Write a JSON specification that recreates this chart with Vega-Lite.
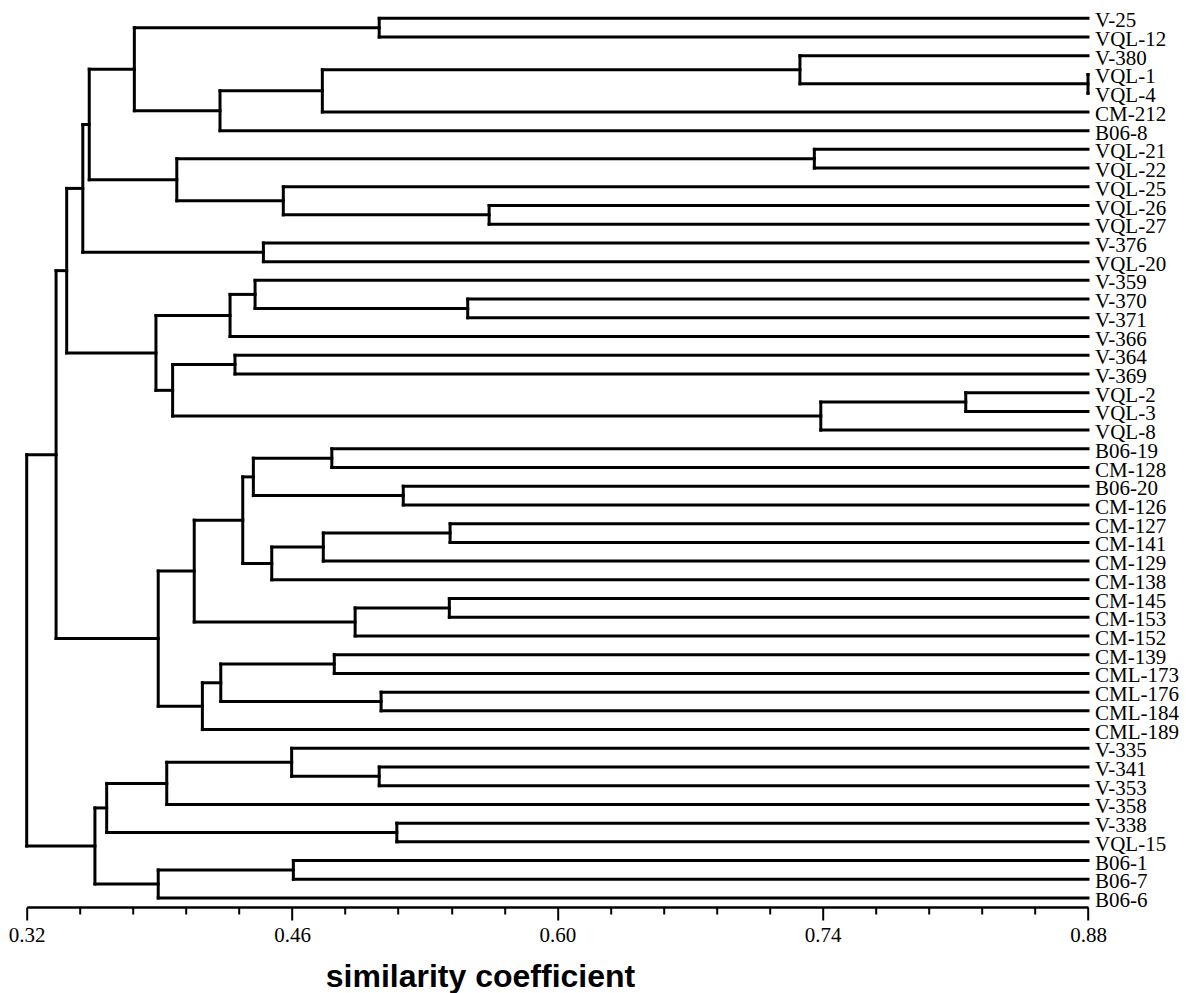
{
  "$schema": "https://vega.github.io/schema/vega-lite/v6.json",
  "width": 1061.3,
  "height": 907,
  "autosize": {"type": "none"},
  "padding": {"left": 26.7, "top": 0, "right": 99, "bottom": 86},
  "background": "white",
  "config": {"view": {"stroke": null}},
  "data": {"values": [
    {"n": "V-25", "s": 0.88, "p": 0.506, "y": 0, "leaf": true},
    {"n": "VQL-12", "s": 0.88, "p": 0.506, "y": 1, "leaf": true},
    {"n": "V-380", "s": 0.88, "p": 0.728, "y": 2, "leaf": true},
    {"n": "VQL-1", "s": 0.88, "p": 0.88, "y": 3, "leaf": true},
    {"n": "VQL-4", "s": 0.88, "p": 0.88, "y": 4, "leaf": true},
    {"n": "CM-212", "s": 0.88, "p": 0.476, "y": 5, "leaf": true},
    {"n": "B06-8", "s": 0.88, "p": 0.422, "y": 6, "leaf": true},
    {"n": "VQL-21", "s": 0.88, "p": 0.7356, "y": 7, "leaf": true},
    {"n": "VQL-22", "s": 0.88, "p": 0.7356, "y": 8, "leaf": true},
    {"n": "VQL-25", "s": 0.88, "p": 0.4554, "y": 9, "leaf": true},
    {"n": "VQL-26", "s": 0.88, "p": 0.564, "y": 10, "leaf": true},
    {"n": "VQL-27", "s": 0.88, "p": 0.564, "y": 11, "leaf": true},
    {"n": "V-376", "s": 0.88, "p": 0.4449, "y": 12, "leaf": true},
    {"n": "VQL-20", "s": 0.88, "p": 0.4449, "y": 13, "leaf": true},
    {"n": "V-359", "s": 0.88, "p": 0.4405, "y": 14, "leaf": true},
    {"n": "V-370", "s": 0.88, "p": 0.5527, "y": 15, "leaf": true},
    {"n": "V-371", "s": 0.88, "p": 0.5527, "y": 16, "leaf": true},
    {"n": "V-366", "s": 0.88, "p": 0.4273, "y": 17, "leaf": true},
    {"n": "V-364", "s": 0.88, "p": 0.4299, "y": 18, "leaf": true},
    {"n": "V-369", "s": 0.88, "p": 0.4299, "y": 19, "leaf": true},
    {"n": "VQL-2", "s": 0.88, "p": 0.8155, "y": 20, "leaf": true},
    {"n": "VQL-3", "s": 0.88, "p": 0.8155, "y": 21, "leaf": true},
    {"n": "VQL-8", "s": 0.88, "p": 0.739, "y": 22, "leaf": true},
    {"n": "B06-19", "s": 0.88, "p": 0.481, "y": 23, "leaf": true},
    {"n": "CM-128", "s": 0.88, "p": 0.481, "y": 24, "leaf": true},
    {"n": "B06-20", "s": 0.88, "p": 0.5187, "y": 25, "leaf": true},
    {"n": "CM-126", "s": 0.88, "p": 0.5187, "y": 26, "leaf": true},
    {"n": "CM-127", "s": 0.88, "p": 0.5434, "y": 27, "leaf": true},
    {"n": "CM-141", "s": 0.88, "p": 0.5434, "y": 28, "leaf": true},
    {"n": "CM-129", "s": 0.88, "p": 0.4765, "y": 29, "leaf": true},
    {"n": "CM-138", "s": 0.88, "p": 0.4493, "y": 30, "leaf": true},
    {"n": "CM-145", "s": 0.88, "p": 0.543, "y": 31, "leaf": true},
    {"n": "CM-153", "s": 0.88, "p": 0.543, "y": 32, "leaf": true},
    {"n": "CM-152", "s": 0.88, "p": 0.4933, "y": 33, "leaf": true},
    {"n": "CM-139", "s": 0.88, "p": 0.4823, "y": 34, "leaf": true},
    {"n": "CML-173", "s": 0.88, "p": 0.4823, "y": 35, "leaf": true},
    {"n": "CML-176", "s": 0.88, "p": 0.507, "y": 36, "leaf": true},
    {"n": "CML-184", "s": 0.88, "p": 0.507, "y": 37, "leaf": true},
    {"n": "CML-189", "s": 0.88, "p": 0.4127, "y": 38, "leaf": true},
    {"n": "V-335", "s": 0.88, "p": 0.4598, "y": 39, "leaf": true},
    {"n": "V-341", "s": 0.88, "p": 0.506, "y": 40, "leaf": true},
    {"n": "V-353", "s": 0.88, "p": 0.506, "y": 41, "leaf": true},
    {"n": "V-358", "s": 0.88, "p": 0.3939, "y": 42, "leaf": true},
    {"n": "V-338", "s": 0.88, "p": 0.5153, "y": 43, "leaf": true},
    {"n": "VQL-15", "s": 0.88, "p": 0.5153, "y": 44, "leaf": true},
    {"n": "B06-1", "s": 0.88, "p": 0.4607, "y": 45, "leaf": true},
    {"n": "B06-7", "s": 0.88, "p": 0.4607, "y": 46, "leaf": true},
    {"n": "B06-6", "s": 0.88, "p": 0.3894, "y": 47, "leaf": true},
    {"n": "N1", "s": 0.506, "p": 0.3768, "lo": 0, "hi": 1, "y": 0.5, "leaf": false},
    {"n": "N2", "s": 0.88, "p": 0.728, "lo": 3, "hi": 4, "y": 3.5, "leaf": false},
    {"n": "N3", "s": 0.728, "p": 0.476, "lo": 2, "hi": 3.5, "y": 2.75, "leaf": false},
    {"n": "N4", "s": 0.476, "p": 0.422, "lo": 2.75, "hi": 5, "y": 3.875, "leaf": false},
    {"n": "N5", "s": 0.422, "p": 0.3768, "lo": 3.875, "hi": 6, "y": 4.9375, "leaf": false},
    {"n": "N6", "s": 0.3768, "p": 0.353, "lo": 0.5, "hi": 4.9375, "y": 2.71875, "leaf": false},
    {"n": "N7", "s": 0.7356, "p": 0.3992, "lo": 7, "hi": 8, "y": 7.5, "leaf": false},
    {"n": "N8", "s": 0.564, "p": 0.4554, "lo": 10, "hi": 11, "y": 10.5, "leaf": false},
    {"n": "N9", "s": 0.4554, "p": 0.3992, "lo": 9, "hi": 10.5, "y": 9.75, "leaf": false},
    {"n": "N10", "s": 0.3992, "p": 0.353, "lo": 7.5, "hi": 9.75, "y": 8.625, "leaf": false},
    {"n": "N11", "s": 0.353, "p": 0.3496, "lo": 2.71875, "hi": 8.625, "y": 5.671875, "leaf": false},
    {"n": "N12", "s": 0.4449, "p": 0.3496, "lo": 12, "hi": 13, "y": 12.5, "leaf": false},
    {"n": "N13", "s": 0.3496, "p": 0.3411, "lo": 5.671875, "hi": 12.5, "y": 9.0859375, "leaf": false},
    {"n": "N14", "s": 0.5527, "p": 0.4405, "lo": 15, "hi": 16, "y": 15.5, "leaf": false},
    {"n": "N15", "s": 0.4405, "p": 0.4273, "lo": 14, "hi": 15.5, "y": 14.75, "leaf": false},
    {"n": "N16", "s": 0.4273, "p": 0.3882, "lo": 14.75, "hi": 17, "y": 15.875, "leaf": false},
    {"n": "N17", "s": 0.4299, "p": 0.397, "lo": 18, "hi": 19, "y": 18.5, "leaf": false},
    {"n": "N18", "s": 0.8155, "p": 0.739, "lo": 20, "hi": 21, "y": 20.5, "leaf": false},
    {"n": "N19", "s": 0.739, "p": 0.397, "lo": 20.5, "hi": 22, "y": 21.25, "leaf": false},
    {"n": "N20", "s": 0.397, "p": 0.3882, "lo": 18.5, "hi": 21.25, "y": 19.875, "leaf": false},
    {"n": "N21", "s": 0.3882, "p": 0.3411, "lo": 15.875, "hi": 19.875, "y": 17.875, "leaf": false},
    {"n": "N22", "s": 0.3411, "p": 0.3355, "lo": 9.0859375, "hi": 17.875, "y": 13.48046875, "leaf": false},
    {"n": "N23", "s": 0.481, "p": 0.4396, "lo": 23, "hi": 24, "y": 23.5, "leaf": false},
    {"n": "N24", "s": 0.5187, "p": 0.4396, "lo": 25, "hi": 26, "y": 25.5, "leaf": false},
    {"n": "N25", "s": 0.4396, "p": 0.434, "lo": 23.5, "hi": 25.5, "y": 24.5, "leaf": false},
    {"n": "N26", "s": 0.5434, "p": 0.4765, "lo": 27, "hi": 28, "y": 27.5, "leaf": false},
    {"n": "N27", "s": 0.4765, "p": 0.4493, "lo": 27.5, "hi": 29, "y": 28.25, "leaf": false},
    {"n": "N28", "s": 0.4493, "p": 0.434, "lo": 28.25, "hi": 30, "y": 29.125, "leaf": false},
    {"n": "N29", "s": 0.434, "p": 0.4084, "lo": 24.5, "hi": 29.125, "y": 26.8125, "leaf": false},
    {"n": "N30", "s": 0.543, "p": 0.4933, "lo": 31, "hi": 32, "y": 31.5, "leaf": false},
    {"n": "N31", "s": 0.4933, "p": 0.4084, "lo": 31.5, "hi": 33, "y": 32.25, "leaf": false},
    {"n": "N32", "s": 0.4084, "p": 0.3894, "lo": 26.8125, "hi": 32.25, "y": 29.53125, "leaf": false},
    {"n": "N33", "s": 0.4823, "p": 0.4224, "lo": 34, "hi": 35, "y": 34.5, "leaf": false},
    {"n": "N34", "s": 0.507, "p": 0.4224, "lo": 36, "hi": 37, "y": 36.5, "leaf": false},
    {"n": "N35", "s": 0.4224, "p": 0.4127, "lo": 34.5, "hi": 36.5, "y": 35.5, "leaf": false},
    {"n": "N36", "s": 0.4127, "p": 0.3894, "lo": 35.5, "hi": 38, "y": 36.75, "leaf": false},
    {"n": "N37", "s": 0.3894, "p": 0.3355, "lo": 29.53125, "hi": 36.75, "y": 33.140625, "leaf": false},
    {"n": "N38", "s": 0.3355, "p": 0.32, "lo": 13.48046875, "hi": 33.140625, "y": 23.310546875, "leaf": false},
    {"n": "N39", "s": 0.506, "p": 0.4598, "lo": 40, "hi": 41, "y": 40.5, "leaf": false},
    {"n": "N40", "s": 0.4598, "p": 0.3939, "lo": 39, "hi": 40.5, "y": 39.75, "leaf": false},
    {"n": "N41", "s": 0.3939, "p": 0.3622, "lo": 39.75, "hi": 42, "y": 40.875, "leaf": false},
    {"n": "N42", "s": 0.5153, "p": 0.3622, "lo": 43, "hi": 44, "y": 43.5, "leaf": false},
    {"n": "N43", "s": 0.3622, "p": 0.356, "lo": 40.875, "hi": 43.5, "y": 42.1875, "leaf": false},
    {"n": "N44", "s": 0.4607, "p": 0.3894, "lo": 45, "hi": 46, "y": 45.5, "leaf": false},
    {"n": "N45", "s": 0.3894, "p": 0.356, "lo": 45.5, "hi": 47, "y": 46.25, "leaf": false},
    {"n": "N46", "s": 0.356, "p": 0.32, "lo": 42.1875, "hi": 46.25, "y": 44.21875, "leaf": false},
    {"n": "root", "s": 0.32, "lo": 23.310546875, "hi": 44.21875, "y": 33.7646484375, "leaf": false}
  ]},
  "layer": [
    {
      "transform": [{"filter": "isValid(datum.lo)"}],
      "mark": {"type": "rule", "color": "black", "strokeWidth": 3, "strokeCap": "square"},
      "encoding": {
        "x": {
          "field": "s", "type": "quantitative",
          "scale": {"domain": [0.32, 0.88], "nice": false, "zero": false},
          "axis": {
            "values": [0.32, 0.348, 0.376, 0.404, 0.432, 0.46, 0.488, 0.516, 0.544, 0.572, 0.6, 0.628, 0.656, 0.684, 0.712, 0.74, 0.768, 0.796, 0.824, 0.852, 0.88],
            "tickSize": {"condition": {"test": "indexof([0.32,0.46,0.6,0.74,0.88], datum.value) >= 0", "value": 13}, "value": 7},
            "labelExpr": "indexof([0.32,0.46,0.6,0.74,0.88], datum.value) >= 0 ? format(datum.value, '.2f') : ''",
            "grid": false,
            "domainColor": "black",
            "domainWidth": 2.5,
            "tickColor": "black",
            "tickWidth": 2,
            "labelFont": "Liberation Serif",
            "labelFontSize": 21,
            "labelColor": "black",
            "labelBaseline": "alphabetic",
            "labelPadding": 21,
            "labelFlush": false,
            "labelOverlap": false,
            "title": "similarity coefficient",
            "titleFont": "Liberation Sans",
            "titleFontSize": 32,
            "titleFontWeight": "bold",
            "titleColor": "black",
            "titleAlign": "center",
            "titleBaseline": "alphabetic",
            "titleX": 453.3,
            "titleY": 79
          }
        },
        "y": {
          "field": "lo", "type": "quantitative",
          "scale": {"domain": [-0.98, 47.48], "reverse": true, "nice": false, "zero": false},
          "axis": null
        },
        "y2": {"field": "hi"}
      }
    },
    {
      "transform": [{"filter": "isValid(datum.p)"}],
      "mark": {"type": "rule", "color": "black", "strokeWidth": 3, "strokeCap": "square"},
      "encoding": {
        "x": {"field": "s", "type": "quantitative"},
        "x2": {"field": "p"},
        "y": {"field": "y", "type": "quantitative"}
      }
    },
    {
      "transform": [{"filter": "datum.leaf"}],
      "mark": {"type": "text", "align": "left", "baseline": "alphabetic", "dx": 7, "dy": 9, "font": "Liberation Serif", "fontSize": 21, "color": "black"},
      "encoding": {
        "x": {"field": "s", "type": "quantitative"},
        "y": {"field": "y", "type": "quantitative"},
        "text": {"field": "n"}
      }
    }
  ]
}
